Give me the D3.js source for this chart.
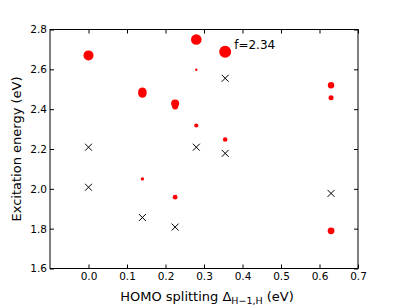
<!DOCTYPE html>
<meta charset="utf-8">
<head>
  <style>
    body { margin: 0; background: #fff; }
    text { font-family: "DejaVu Sans", sans-serif; fill: #000; }
    .axis path, .axis line { stroke: #000; }
  </style>
  <script src="https://d3js.org/d3.v7.min.js"></script>
</head>
<body>
  <svg width="399" height="308"></svg>
  <script>
    // excitation states: HOMO splitting, energy, oscillator strength (marker radius)
    var stateX = [0.0, 0.14, 0.14, 0.225, 0.225, 0.28, 0.28, 0.28, 0.355, 0.355, 0.63, 0.63, 0.14, 0.225, 0.63];
    var stateY = [2.67, 2.488, 2.478, 2.428, 2.413, 2.75, 2.598, 2.318, 2.688, 2.248, 2.52, 2.457, 2.05, 1.958, 1.789];
    var stateR = [5, 4.2, 4.2, 4, 3, 5.3, 1.2, 2.1, 6, 2.3, 3.2, 2.5, 1.7, 2.4, 3.4];

    // reference energies (crosses)
    var crossX = [0.0, 0.0, 0.14, 0.225, 0.28, 0.355, 0.355, 0.63];
    var crossY = [2.209, 2.008, 1.856, 1.808, 2.209, 2.555, 2.178, 1.977];

    var xTicks = [0.0, 0.1, 0.2, 0.3, 0.4, 0.5, 0.6, 0.7];
    var yTicks = [1.6, 1.8, 2.0, 2.2, 2.4, 2.6, 2.8];

    var svg = d3.select("svg"),
      mLeft = 50, mTop = 29.5, mRight = 358, mBottom = 268.5;

    var x = d3.scaleLinear().domain([-0.1, 0.7]).range([mLeft, mRight]);
    var y = d3.scaleLinear().domain([1.6, 2.8]).range([mBottom, mTop]);

    var fmt = d3.format(".1f");

    svg.append("g").attr("class", "axis")
      .attr("transform", "translate(0," + mBottom + ")")
      .call(d3.axisBottom(x).tickValues(xTicks).tickFormat(fmt).tickSizeInner(-4).tickSizeOuter(0).tickPadding(4))
      .call(g => g.select(".domain").remove());
    svg.append("g").attr("class", "axis")
      .attr("transform", "translate(0," + mTop + ")")
      .call(d3.axisTop(x).tickValues(xTicks).tickFormat("").tickSizeInner(-4).tickSizeOuter(0))
      .call(g => g.select(".domain").remove());
    svg.append("g").attr("class", "axis")
      .attr("transform", "translate(" + mLeft + ",0)")
      .call(d3.axisLeft(y).tickValues(yTicks).tickFormat(fmt).tickSizeInner(-4).tickSizeOuter(0).tickPadding(3))
      .call(g => g.select(".domain").remove());
    svg.append("g").attr("class", "axis")
      .attr("transform", "translate(" + mRight + ",0)")
      .call(d3.axisRight(y).tickValues(yTicks).tickFormat("").tickSizeInner(-4).tickSizeOuter(0))
      .call(g => g.select(".domain").remove());

    svg.selectAll(".axis text").style("font-size", "10.5px").style("font-family", "DejaVu Sans");

    svg.append("rect")
      .attr("x", mLeft).attr("y", mTop)
      .attr("width", mRight - mLeft).attr("height", mBottom - mTop)
      .attr("fill", "none").attr("stroke", "#000").attr("stroke-width", 1);

    svg.selectAll("circle")
      .data(stateX)
      .enter()
      .append("circle")
      .attr("cx", (d, i) => x(stateX[i]))
      .attr("cy", (d, i) => y(stateY[i]))
      .attr("r", (d, i) => stateR[i])
      .attr("fill", "#ff0000");

    var s = 3.5;
    svg.selectAll(".cross")
      .data(crossX)
      .enter()
      .append("path")
      .attr("class", "cross")
      .attr("d", function(d, i) {
        var cx = x(crossX[i]), cy = y(crossY[i]);
        return "M" + (cx - s) + "," + (cy - s) + "L" + (cx + s) + "," + (cy + s) +
          "M" + (cx - s) + "," + (cy + s) + "L" + (cx + s) + "," + (cy - s);
      })
      .attr("stroke", "#000").attr("stroke-width", 1).attr("fill", "none");

    svg.append("text")
      .attr("x", x(0.355) + 9).attr("y", y(2.688) - 3)
      .style("font-size", "12px")
      .text("f=2.34");

    var xl = svg.append("text")
      .attr("x", (mLeft + mRight) / 2 + 3).attr("y", 301)
      .attr("text-anchor", "middle")
      .style("font-size", "13px");
    xl.append("tspan").text("HOMO splitting \u0394");
    xl.append("tspan").attr("dy", 3).style("font-size", "9.5px").text("H\u22121,H");
    xl.append("tspan").attr("dy", -3).text(" (eV)");

    svg.append("text")
      .attr("transform", "translate(21," + ((mTop + mBottom) / 2) + ") rotate(-90)")
      .attr("text-anchor", "middle")
      .style("font-size", "13px")
      .text("Excitation energy (eV)");
  </script>
</body>
